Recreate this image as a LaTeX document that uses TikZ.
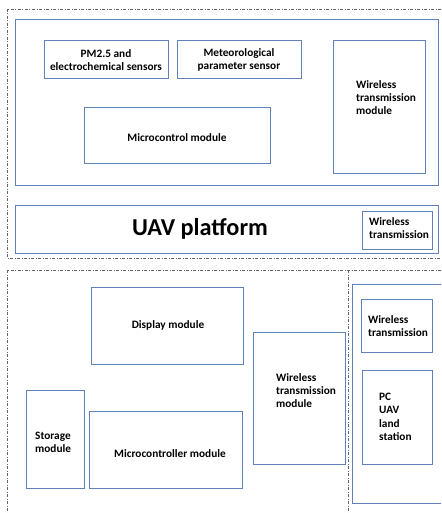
\documentclass[tikz,border=0pt]{standalone}
\usepackage{fontspec}
\setmainfont{Carlito}
\definecolor{boxblue}{RGB}{96,130,182}
\definecolor{dashgray}{RGB}{100,100,100}
\tikzset{
  box/.style={draw=boxblue, line width=0.9pt, rectangle, inner sep=0pt},
  lbl/.style={font=\bfseries\fontsize{11.3}{13.3}\selectfont, align=left, inner sep=0pt, anchor=north west},
  clbl/.style={font=\bfseries\fontsize{11.3}{13.3}\selectfont, align=center, inner sep=0pt},
  zone/.style={draw=dashgray, line width=0.6pt, dash pattern=on 3pt off 1.5pt on 1pt off 1.5pt},
}
\newcommand{\boxat}[5]{% name, x1, y1, x2, y2
  \node[box, minimum width={(#4-#2)*1pt}, minimum height={(#5-#3)*1pt}] (#1) at ({(#2+#4)/2},{(#3+#5)/2}) {};}
\begin{document}
\begin{tikzpicture}[x=1pt, y=-1pt]
\useasboundingbox (0,0) rectangle (441,513);

% dashed zones
\draw[zone] (441,9) -- (7,9) -- (7,258) -- (441,258);
\draw[zone] (441,270) -- (7,270) -- (7,513);
\draw[zone] (348,270) -- (348,513);

% airborne unit
\boxat{air}{15}{19}{438}{185}
\boxat{pm}{44}{40}{168}{78}
\boxat{met}{177}{40}{301}{78}
\boxat{wtm}{333}{40}{425}{173}
\boxat{mcu}{84}{107}{270}{163}
\boxat{uav}{15}{205}{438}{253}
\boxat{wtu}{362}{211}{432}{249}

\node[clbl] at (106,60) {PM2.5 and\\electrochemical sensors};
\node[clbl] at (239,60) {Meteorological\\parameter sensor};
\node[lbl] at (356,80) {Wireless\\transmission\\module};
\node[clbl] at (177,138) {Microcontrol module};
\node[font=\bfseries\fontsize{24.3}{28}\selectfont, inner sep=0pt] at (200,229) {UAV platform};
\node[lbl] at (369,217) {Wireless\\transmission};

% ground unit
\boxat{disp}{91}{287}{243}{364}
\boxat{stor}{26}{390}{84}{488}
\boxat{mc}{89}{411}{242}{488}
\boxat{wtg}{253}{332}{345}{464}

\node[clbl] at (168,325) {Display module};
\node[lbl] at (35,432) {Storage\\module};
\node[clbl] at (170,454) {Microcontroller module};
\node[lbl] at (276,373) {Wireless\\transmission\\module};

% land station
\draw[draw=boxblue, line width=0.9pt] (441,284) -- (352,284) -- (352,503) -- (441,503);
\boxat{wts}{361}{299}{432}{352}
\boxat{pc}{362}{370}{432}{464}
\node[lbl] at (368,315) {Wireless\\transmission};
\node[lbl] at (379,393) {PC\\UAV\\land\\station};
\end{tikzpicture}
\end{document}
